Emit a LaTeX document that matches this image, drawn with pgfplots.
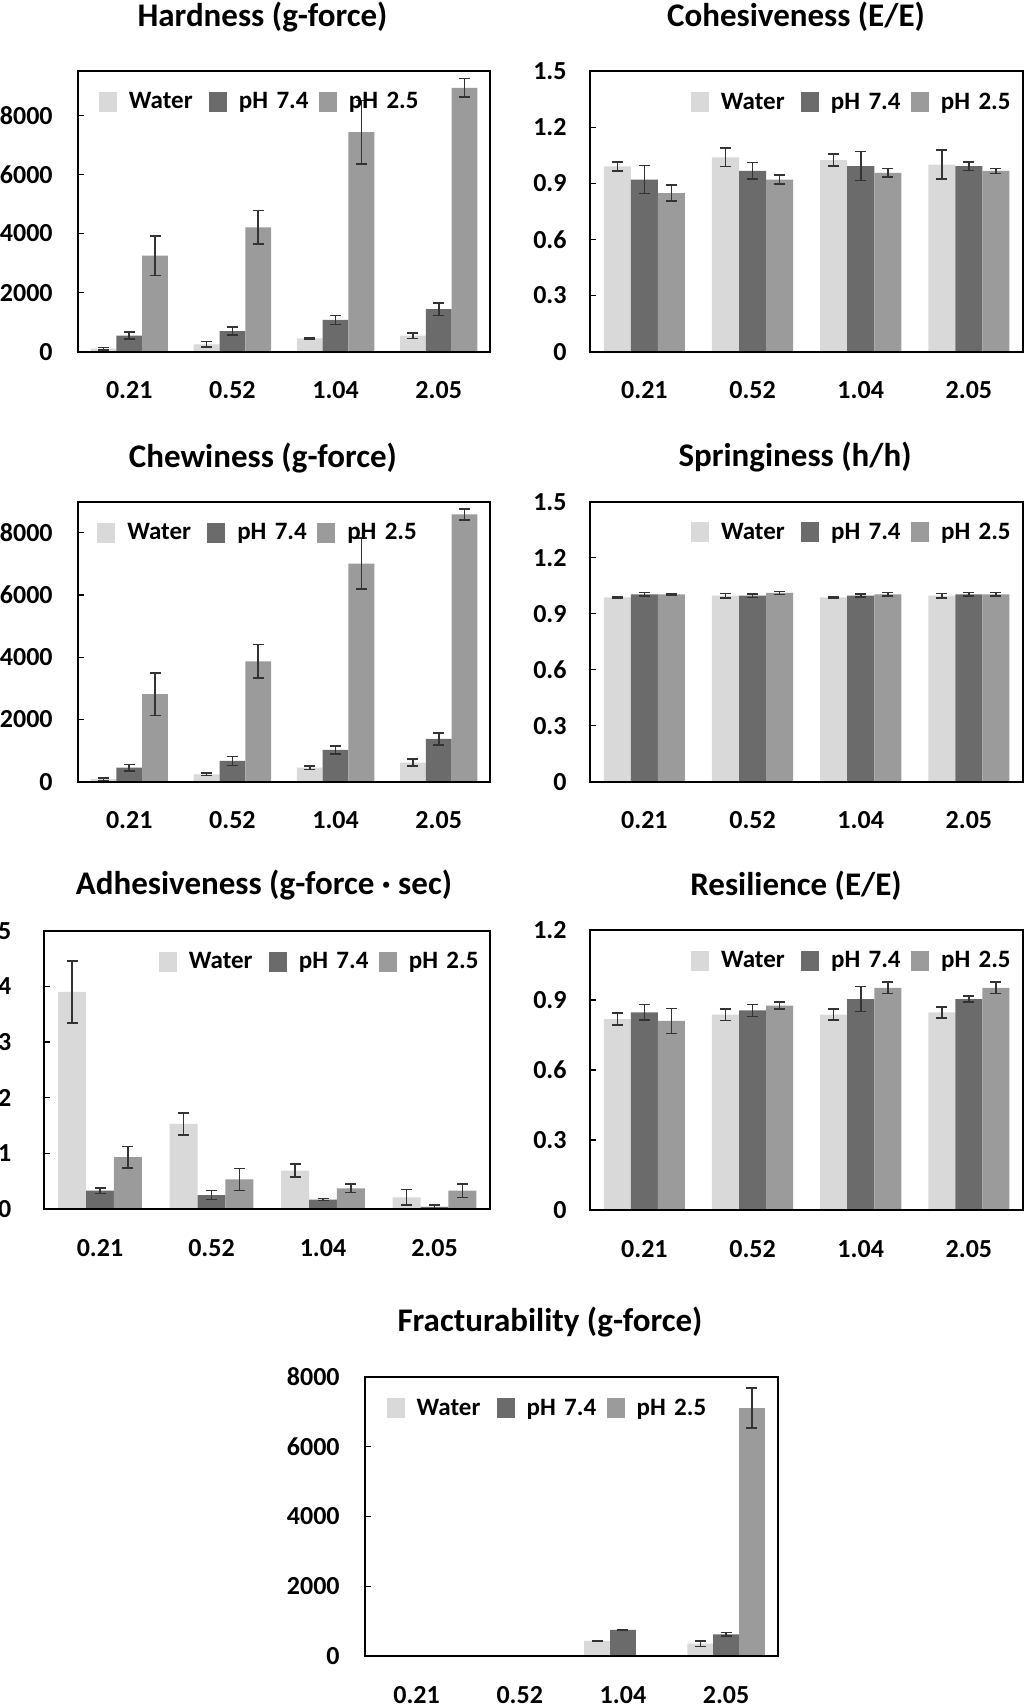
\documentclass[border=0pt]{standalone}
\usepackage{fontspec}
\setmainfont{Carlito}
\usepackage{pgfplots}
\pgfplotsset{compat=1.18}
\definecolor{cW}{HTML}{D9D9D9}
\definecolor{cN}{HTML}{6B6B6B}
\definecolor{cA}{HTML}{9B9B9B}
\newcommand\tkf{\bfseries\fontsize{13}{15}\selectfont}
\newcommand\lgf{\bfseries\fontsize{12.5}{14}\selectfont}
\newcommand\ttlf{\bfseries\fontsize{16.5}{19}\selectfont}
\pgfplotsset{
 tpa/.style={
  scale only axis, axis on top,
  ybar=0pt, bar width=0.25,
  xmin=-0.5, xmax=3.5, ymin=0,
  xtick={0,1,2,3}, xticklabels={0.21,0.52,1.04,2.05},
  ytick pos=left,
  xtick style={draw=none},
  tick align=inside, major tick length=3pt,
  ytick style={line width=0.6pt, black},
  axis line style={line width=1pt},
  tick label style={font=\tkf},
  xticklabel style={anchor=base, yshift=-23.6pt},
  yticklabel style={anchor=east, inner sep=0pt},
  scaled y ticks=false,
  /pgf/number format/1000 sep={},
  /pgf/number format/assume math mode=true,
  legend columns=3,
  legend image code/.code={\fill[##1] (0pt,-5pt) rectangle (9pt,5pt); \path (15pt,0pt);},
  legend style={draw=none, fill=none, inner sep=0pt, outer sep=0pt, anchor=west, column sep=0pt, font=\lgf, nodes={inner sep=0pt, text width=40pt, align=left, anchor=west}},
 },
 eb/.style={error bars/.cd, y dir=both, y explicit, error bar style={line width=0.8pt, black!80}, error mark options={rotate=90, black!80, line width=0.8pt, mark size=2.75pt}},
 sW/.style={fill=cW, draw=none, eb},
 sN/.style={fill=cN, draw=none, eb},
 sA/.style={fill=cA, draw=none, eb},
}
\begin{document}
\begin{tikzpicture}
\useasboundingbox (0,0) rectangle (512pt,852pt);
\fill[white] (0,0) rectangle (512pt,852pt);
% titles
\node[anchor=base, font=\ttlf] at (131.25pt,838.65pt) {Hardness (g-force)};
\node[anchor=base, font=\ttlf] at (398pt,838.65pt) {Cohesiveness (E/E)};
\node[anchor=base, font=\ttlf] at (131.5pt,618.15pt) {Chewiness (g-force)};
\node[anchor=base, font=\ttlf] at (397.5pt,618.65pt) {Springiness (h/h)};
\node[anchor=base, font=\ttlf] at (132pt,404.5pt) {Adhesiveness (g-force · sec)};
\node[anchor=base, font=\ttlf] at (398pt,404pt) {Resilience (E/E)};
\node[anchor=base, font=\ttlf] at (275pt,186.15pt) {Fracturability (g-force)};

% A Hardness
\begin{axis}[tpa, at={(38.85pt,676.15pt)}, anchor=south west, width=206.3pt, height=140.35pt,
  ymax=9500, ytick={0,2000,4000,6000,8000}, yticklabel style={xshift=-12.35pt},
  legend style={at={(0.0516,0.8896)}}]
\addplot[sW] coordinates {(0,100) +- (0,45) (1,250) +- (0,90) (2,450) +- (0,20) (3,540) +- (0,90)};
\addplot[sN] coordinates {(0,540) +- (0,120) (1,700) +- (0,140) (2,1075) +- (0,150) (3,1440) +- (0,215)};
\addplot[sA] coordinates {(0,3250) +- (0,670) (1,4210) +- (0,570) (2,7430) +- (0,1070) (3,8930) +- (0,310)};
\legend{Water,pH 7.4,pH 2.5}
\end{axis}

% B Cohesiveness
\begin{axis}[tpa, at={(295.15pt,676.15pt)}, anchor=south west, width=216.35pt, height=140.35pt,
  ymax=1.5, ytick={0,0.3,0.6,0.9,1.2,1.5}, yticklabel style={xshift=-11.65pt},
  legend style={at={(0.2327,0.888)}}]
\addplot[sW] coordinates {(0,0.99) +- (0,0.025) (1,1.038) +- (0,0.049) (2,1.024) +- (0,0.031) (3,1.0) +- (0,0.078)};
\addplot[sN] coordinates {(0,0.92) +- (0,0.074) (1,0.966) +- (0,0.044) (2,0.992) +- (0,0.078) (3,0.992) +- (0,0.023)};
\addplot[sA] coordinates {(0,0.848) +- (0,0.044) (1,0.92) +- (0,0.025) (2,0.956) +- (0,0.023) (3,0.966) +- (0,0.013)};
\legend{Water,pH 7.4,pH 2.5}
\end{axis}

% C Chewiness
\begin{axis}[tpa, at={(38.85pt,461.15pt)}, anchor=south west, width=206.3pt, height=140pt,
  ymax=9000, ytick={0,2000,4000,6000,8000}, yticklabel style={xshift=-12.35pt},
  legend style={at={(0.0475,0.89)}}]
\addplot[sW] coordinates {(0,80) +- (0,40) (1,236) +- (0,43) (2,451) +- (0,54) (3,612) +- (0,113)};
\addplot[sN] coordinates {(0,451) +- (0,107) (1,666) +- (0,140) (2,1020) +- (0,124) (3,1374) +- (0,188)};
\addplot[sA] coordinates {(0,2813) +- (0,680) (1,3866) +- (0,540) (2,7012) +- (0,816) (3,8590) +- (0,177)};
\legend{Water,pH 7.4,pH 2.5}
\end{axis}

% D Springiness
\begin{axis}[tpa, at={(295.15pt,461.15pt)}, anchor=south west, width=216.35pt, height=140pt,
  ymax=1.5, ytick={0,0.3,0.6,0.9,1.2,1.5}, yticklabel style={xshift=-11.65pt},
  legend style={at={(0.233,0.89)}}]
\addplot[sW] coordinates {(0,0.988) +- (0,0.004) (1,0.997) +- (0,0.012) (2,0.988) +- (0,0.004) (3,0.997) +- (0,0.012)};
\addplot[sN] coordinates {(0,1.004) +- (0,0.01) (1,0.997) +- (0,0.01) (2,0.997) +- (0,0.008) (3,1.004) +- (0,0.01)};
\addplot[sA] coordinates {(0,1.004) +- (0,0.003) (1,1.011) +- (0,0.008) (2,1.004) +- (0,0.01) (3,1.004) +- (0,0.01)};
\legend{Water,pH 7.4,pH 2.5}
\end{axis}

% E Adhesiveness
\begin{axis}[tpa, at={(22.15pt,247.5pt)}, anchor=south west, width=223pt, height=139.15pt,
  ymax=5, ytick={0,1,2,3,4,5}, yticklabel style={xshift=-16.3pt},
  legend style={at={(0.257,0.8875)}}]
\addplot[sW] coordinates {(0,3.90) +- (0,0.56) (1,1.53) +- (0,0.20) (2,0.69) +- (0,0.12) (3,0.21) +- (0,0.14)};
\addplot[sN] coordinates {(0,0.33) +- (0,0.05) (1,0.25) +- (0,0.08) (2,0.17) +- (0,0.02) (3,0.04) +- (0,0.03)};
\addplot[sA] coordinates {(0,0.93) +- (0,0.19) (1,0.53) +- (0,0.20) (2,0.37) +- (0,0.075) (3,0.33) +- (0,0.12)};
\legend{Water,pH 7.4,pH 2.5}
\end{axis}

% F Resilience
\begin{axis}[tpa, at={(295.15pt,247pt)}, anchor=south west, width=216.35pt, height=140pt,
  ymax=1.2, ytick={0,0.3,0.6,0.9,1.2}, yticklabel style={xshift=-11.65pt},
  legend style={at={(0.233,0.891)}}]
\addplot[sW] coordinates {(0,0.818) +- (0,0.025) (1,0.837) +- (0,0.025) (2,0.837) +- (0,0.024) (3,0.847) +- (0,0.024)};
\addplot[sN] coordinates {(0,0.847) +- (0,0.034) (1,0.855) +- (0,0.026) (2,0.904) +- (0,0.054) (3,0.904) +- (0,0.012)};
\addplot[sA] coordinates {(0,0.81) +- (0,0.053) (1,0.876) +- (0,0.015) (2,0.952) +- (0,0.025) (3,0.952) +- (0,0.024)};
\legend{Water,pH 7.4,pH 2.5}
\end{axis}

% G Fracturability
\begin{axis}[tpa, at={(182.5pt,24pt)}, anchor=south west, width=206.35pt, height=139.65pt,
  ymax=8000, ytick={0,2000,4000,6000,8000}, yticklabel style={xshift=-12.5pt},
  legend style={at={(0.0526,0.8865)}}]
\addplot[sW] coordinates {(2,430) +- (0,15) (3,354) +- (0,80)};
\addplot[sN] coordinates {(2,747) +- (0,10) (3,623) +- (0,45)};
\addplot[sA] coordinates {(3,7108) +- (0,575)};
\legend{Water,pH 7.4,pH 2.5}
\end{axis}
\end{tikzpicture}
\end{document}
